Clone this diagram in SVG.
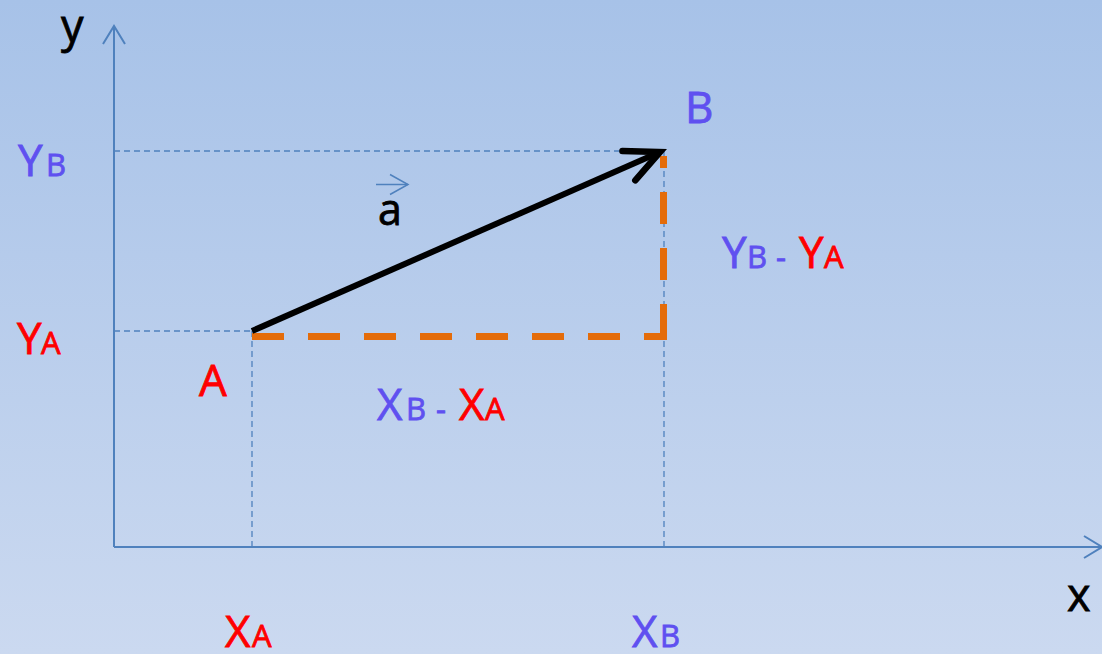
<svg xmlns="http://www.w3.org/2000/svg" width="1102" height="654" viewBox="0 0 1102 654">
<defs>
<linearGradient id="bg" x1="0" y1="0" x2="0" y2="1">
<stop offset="0" stop-color="#a7c2e8"/>
<stop offset="1" stop-color="#cbd9f0"/>
</linearGradient>
<marker id="head" markerUnits="userSpaceOnUse" viewBox="-40 -20 44 40" refX="0" refY="0" markerWidth="44" markerHeight="40" orient="auto" overflow="visible">
<polyline points="-34,-16 0,0 -34,16" fill="none" stroke="#000" stroke-width="6.5" stroke-linecap="round" stroke-linejoin="miter"/>
</marker>
<marker id="axhead" markerUnits="userSpaceOnUse" viewBox="-20 -12 22 24" refX="0" refY="0" markerWidth="22" markerHeight="24" orient="auto" overflow="visible">
<polyline points="-18,-11 0,0 -18,11" fill="none" stroke="#4f81bd" stroke-width="2"/>
</marker>
<marker id="smallhead" markerUnits="userSpaceOnUse" viewBox="-20 -12 22 24" refX="0" refY="0" markerWidth="22" markerHeight="24" orient="auto" overflow="visible">
<polyline points="-18,-10 0,0 -18,10" fill="none" stroke="#4f81bd" stroke-width="1.5"/>
</marker>
</defs>
<style>
.t{font-family:"Open Sans","Liberation Sans",sans-serif;stroke-width:0.8}
.big{font-size:44px}
.sm{font-size:31px}
.lc{font-size:45px;fill:#000;stroke:#000}
.v{fill:#5f50f0;stroke:#5f50f0}
.r{fill:#ff0000;stroke:#ff0000}
.axis{stroke:#4f81bd;stroke-width:2;fill:none}
.guide{stroke:#4f81bd;stroke-width:1.3;stroke-dasharray:6 4;fill:none}
.orange{stroke:#e46c0a;stroke-width:7;stroke-dasharray:32 24;fill:none}
</style>
<rect width="1102" height="654" fill="url(#bg)"/>
<g id="connectors">
<line class="guide" x1="114" y1="151" x2="664" y2="151"/>
<line class="guide" x1="114" y1="331" x2="252" y2="331"/>
<line class="guide" x1="252" y1="331" x2="252" y2="547"/>
<line class="guide" x1="664" y1="151" x2="664" y2="547"/>
<line class="axis" x1="114" y1="547" x2="114" y2="26" marker-end="url(#axhead)"/>
<line class="axis" x1="114" y1="547" x2="1102" y2="547" marker-end="url(#axhead)"/>
<line class="orange" x1="252" y1="336.5" x2="667" y2="336.5"/>
<line class="orange" x1="663.5" y1="336" x2="663.5" y2="156"/>
<line x1="252" y1="331" x2="660" y2="152" stroke="#000" stroke-width="6" marker-end="url(#head)"/>
<line x1="376" y1="184.5" x2="408" y2="184.5" stroke="#4f81bd" stroke-width="1.5" marker-end="url(#smallhead)"/>
</g>
<g id="axis-y-label"><text class="t lc" x="61" y="42">y</text></g>
<g id="axis-x-label"><text class="t lc" x="1067" y="611">x</text></g>
<g id="label-YB"><text class="t v"><tspan class="big" x="18" y="176">Y</tspan><tspan class="sm" x="46" y="176">B</tspan></text></g>
<g id="label-YA"><text class="t r"><tspan class="big" x="17" y="354">Y</tspan><tspan class="sm" x="41" y="354">A</tspan></text></g>
<g id="point-A"><text class="t r big" x="199" y="396">A</text></g>
<g id="point-B"><text class="t v big" x="685" y="123">B</text></g>
<g id="vector-a"><text class="t lc" x="378" y="225" style="font-size:43px">a</text></g>
<g id="label-dy"><text class="t"><tspan class="big v" x="722" y="268">Y</tspan><tspan class="sm v" x="747" y="268">B</tspan><tspan class="sm v" x="776" y="268">-</tspan><tspan class="big r" x="799" y="268">Y</tspan><tspan class="sm r" x="824" y="268">A</tspan></text></g>
<g id="label-dx"><text class="t"><tspan class="big v" x="377" y="420">X</tspan><tspan class="sm v" x="406" y="420">B</tspan><tspan class="sm v" x="436" y="420">-</tspan><tspan class="big r" x="459" y="420">X</tspan><tspan class="sm r" x="485" y="420">A</tspan></text></g>
<g id="label-XA"><text class="t r"><tspan class="big" x="225" y="647">X</tspan><tspan class="sm" x="252" y="647">A</tspan></text></g>
<g id="label-XB"><text class="t v"><tspan class="big" x="632" y="647">X</tspan><tspan class="sm" x="660" y="647">B</tspan></text></g>
</svg>
